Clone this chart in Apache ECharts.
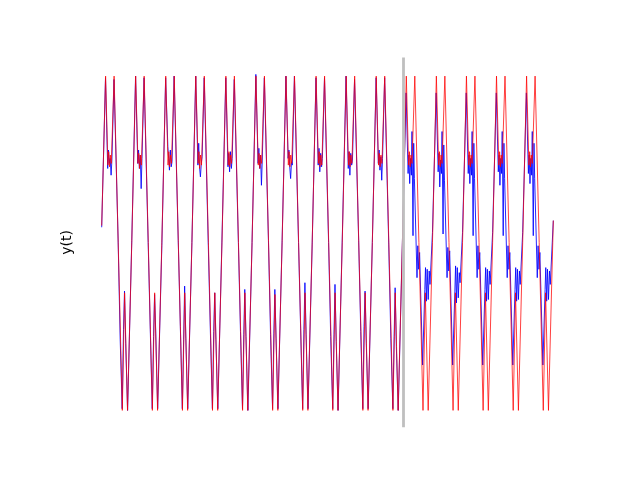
<!DOCTYPE html>
<html>
<head>
<meta charset="utf-8">
<script src="https://cdn.jsdelivr.net/npm/echarts@6/dist/echarts.min.js"></script>
<style>html,body{margin:0;padding:0;background:#fff;}#c{width:640px;height:480px;}</style>
</head>
<body>
<div id="c"></div>
<script>
// y(t): reference signal (red)
const truePoints = [
[0,0.10],[3.9,0.99],[6.2,0.46],[7.0,0.54],[7.8,0.45],[8.6,0.52],[9.6,0.47],[12.4,0.99],[16.5,0.00],[20.6,-1.00],[22.9,-0.30],[25.8,-1.00],
[30.07,0.00],[33.97,0.99],[36.27,0.47],[37.07,0.53],[37.87,0.44],[38.67,0.52],[39.67,0.46],[42.47,0.99],[46.57,0.00],[50.67,-1.00],[52.97,-0.30],[55.87,-1.00],
[60.14,0.00],[64.04,0.99],[66.34,0.46],[67.14,0.54],[67.94,0.45],[68.74,0.52],[69.74,0.47],[72.54,0.99],[76.64,0.00],[80.74,-1.00],[83.04,-0.30],[85.94,-1.00],
[90.21,0.00],[94.11,0.99],[96.41,0.47],[97.21,0.54],[98.01,0.44],[98.81,0.52],[99.81,0.46],[102.61,0.99],[106.71,0.00],[110.81,-1.00],[113.11,-0.30],[116.01,-1.00],
[120.28,0.00],[124.18,0.99],[126.48,0.46],[127.28,0.54],[128.08,0.45],[128.88,0.52],[129.88,0.47],[132.68,0.99],[136.78,0.00],[140.88,-1.00],[143.18,-0.30],[146.08,-1.00],
[150.35,0.00],[154.25,0.99],[156.55,0.46],[157.35,0.53],[158.15,0.44],[158.95,0.52],[159.95,0.47],[162.75,0.99],[166.85,0.00],[170.95,-1.00],[173.25,-0.31],[176.15,-1.00],
[180.42,0.00],[184.32,0.99],[186.62,0.46],[187.42,0.54],[188.22,0.45],[189.02,0.52],[190.02,0.47],[192.82,0.99],[196.92,0.00],[201.02,-1.00],[203.32,-0.30],[206.22,-1.00],
[210.49,0.00],[214.39,0.99],[216.69,0.47],[217.49,0.54],[218.29,0.45],[219.09,0.52],[220.09,0.46],[222.89,0.99],[226.99,0.00],[231.09,-1.00],[233.39,-0.30],[236.29,-1.00],
[240.56,0.00],[244.46,0.99],[246.76,0.46],[247.56,0.54],[248.36,0.45],[249.16,0.52],[250.16,0.47],[252.96,0.99],[257.06,0.00],[261.16,-1.00],[263.46,-0.30],[266.36,-1.00],
[270.63,0.00],[274.53,0.99],[276.83,0.46],[277.63,0.53],[278.43,0.45],[279.23,0.52],[280.23,0.47],[283.03,0.99],[287.13,0.00],[291.23,-1.00],[293.53,-0.30],[296.43,-1.00],
[300.70,0.00],[304.60,0.99],[306.90,0.46],[307.70,0.54],[308.50,0.45],[309.30,0.52],[310.30,0.47],[313.10,0.99],[317.20,0.00],[321.30,-1.00],[323.60,-0.30],[326.50,-1.00],
[330.77,0.00],[334.67,0.99],[336.97,0.46],[337.77,0.54],[338.57,0.45],[339.37,0.52],[340.37,0.47],[343.17,0.99],[347.27,0.00],[351.37,-1.00],[353.67,-0.30],[356.57,-1.00],
[360.84,0.00],[364.74,0.99],[367.04,0.46],[367.84,0.54],[368.64,0.45],[369.44,0.52],[370.44,0.47],[373.24,0.99],[377.34,0.00],[381.44,-1.00],[383.74,-0.30],[386.64,-1.00],
[390.91,0.00],[394.81,0.99],[397.11,0.46],[397.91,0.54],[398.71,0.45],[399.51,0.52],[400.51,0.47],[403.31,0.99],[407.41,0.00],[411.51,-1.00],[413.81,-0.30],[416.71,-1.00],
[420.98,0.00],[424.88,0.99],[427.18,0.46],[427.98,0.54],[428.78,0.45],[429.58,0.52],[430.58,0.47],[433.38,0.99],[437.48,0.00],[441.58,-1.00],[443.88,-0.30],[446.78,-1.00],
[451.05,0.00],[451.6,0.13]
];

// model output (blue): fit before the split, free run after it
const modelPoints = [
[0,0.09],[3.8,0.98],[6.0,0.44],[6.8,0.55],[7.6,0.47],[8.5,0.50],[9.4,0.40],[10.2,0.49],[12.3,0.97],[16.4,0.02],[18.5,-0.58],[20.5,-0.99],[21.8,-0.52],[22.8,-0.29],[24.0,-0.60],[25.9,-1.00],
[30.07,0.01],[33.87,0.99],[36.07,0.47],[36.87,0.55],[37.67,0.44],[38.57,0.52],[39.47,0.32],[40.27,0.50],[42.37,0.98],[46.47,0.00],[48.57,-0.52],[50.57,-0.99],[51.87,-0.56],[52.87,-0.31],[54.07,-0.54],[55.97,-0.99],
[60.14,-0.02],[63.94,0.98],[66.14,0.57],[66.94,0.50],[67.74,0.43],[68.64,0.55],[69.54,0.45],[70.34,0.48],[72.44,0.99],[76.54,0.01],[78.64,-0.50],[80.64,-0.99],[81.94,-0.58],[82.94,-0.26],[84.14,-0.57],[86.04,-0.99],
[90.21,0.00],[94.01,0.99],[96.21,0.46],[97.01,0.59],[97.81,0.45],[98.71,0.39],[99.61,0.47],[100.41,0.51],[102.51,0.98],[106.61,-0.02],[108.71,-0.54],[110.71,-0.99],[112.01,-0.53],[113.01,-0.30],[114.21,-0.58],[116.11,-0.99],
[120.28,0.02],[124.08,0.98],[126.28,0.45],[127.08,0.53],[127.88,0.42],[128.78,0.54],[129.68,0.44],[130.48,0.50],[132.58,0.97],[136.68,0.00],[138.78,-0.53],[140.78,-0.99],[142.08,-0.55],[143.08,-0.28],[144.28,-0.56],[146.18,-1.00],
[150.35,0.00],[154.15,1.00],[156.35,0.47],[157.15,0.56],[157.95,0.44],[158.85,0.52],[159.75,0.34],[160.55,0.49],[162.65,0.98],[166.75,0.01],[168.85,-0.55],[170.85,-0.99],[172.15,-0.54],[173.15,-0.28],[174.35,-0.57],[176.25,-0.99],
[180.42,0.01],[184.22,0.99],[186.42,0.50],[187.22,0.55],[188.02,0.45],[188.92,0.38],[189.82,0.48],[190.62,0.46],[192.72,0.99],[196.82,0.00],[198.92,-0.51],[200.92,-0.99],[202.22,-0.52],[203.22,-0.24],[204.42,-0.55],[206.32,-0.99],
[210.49,-0.01],[214.29,0.98],[216.49,0.46],[217.29,0.56],[218.09,0.42],[218.99,0.53],[219.89,0.45],[220.69,0.50],[222.79,0.98],[226.89,0.00],[228.99,-0.56],[230.99,-0.99],[232.29,-0.55],[233.29,-0.25],[234.49,-0.59],[236.39,-1.00],
[240.56,0.02],[244.36,0.99],[246.56,0.44],[247.36,0.54],[248.16,0.40],[249.06,0.53],[249.96,0.46],[250.76,0.49],[252.86,0.97],[256.96,0.01],[259.06,-0.53],[261.06,-0.99],[262.36,-0.50],[263.36,-0.29],[264.56,-0.60],[266.46,-0.99],
[270.63,0.00],[274.43,0.98],[276.63,0.47],[277.43,0.55],[278.23,0.43],[279.13,0.51],[280.03,0.37],[280.83,0.50],[282.93,0.98],[287.03,-0.01],[289.13,-0.57],[291.13,-0.99],[292.43,-0.56],[293.43,-0.27],[294.63,-0.62],[296.53,-1.00],
[300.70,0.00],[304.40,0.89],[306.40,0.41],[307.20,0.52],[308.00,0.35],[308.90,0.50],[309.70,0.40],[310.30,0.66],[311.30,0.04],[312.00,0.59],[312.70,0.38],[315.30,-0.21],[316.10,-0.02],[317.00,-0.16],[317.90,-0.06],[320.90,-0.73],[323.10,-0.28],[323.80,-0.15],[324.70,-0.35],[325.50,-0.16],[326.50,-0.34],[327.50,-0.17],[328.30,-0.25],
[330.77,0.06],[334.47,0.89],[336.47,0.42],[337.27,0.53],[338.07,0.33],[338.97,0.49],[339.77,0.41],[340.37,0.66],[341.37,0.05],[342.07,0.58],[342.77,0.37],[345.37,-0.21],[346.17,-0.03],[347.07,-0.17],[347.97,-0.05],[350.97,-0.73],[353.17,-0.29],[353.87,-0.14],[354.77,-0.36],[355.57,-0.15],[356.57,-0.33],[357.57,-0.18],[358.37,-0.24],
[360.84,0.06],[364.54,0.89],[366.54,0.41],[367.34,0.52],[368.14,0.35],[369.04,0.50],[369.84,0.40],[370.44,0.66],[371.44,0.04],[372.14,0.59],[372.84,0.38],[375.44,-0.21],[376.24,-0.02],[377.14,-0.16],[378.04,-0.06],[381.04,-0.73],[383.24,-0.28],[383.94,-0.15],[384.84,-0.35],[385.64,-0.16],[386.64,-0.34],[387.64,-0.17],[388.44,-0.25],
[390.91,0.06],[394.61,0.89],[396.61,0.42],[397.41,0.52],[398.21,0.34],[399.11,0.50],[399.91,0.41],[400.51,0.66],[401.51,0.04],[402.21,0.59],[402.91,0.38],[405.51,-0.21],[406.31,-0.02],[407.21,-0.16],[408.11,-0.06],[411.11,-0.73],[413.31,-0.28],[414.01,-0.15],[414.91,-0.35],[415.71,-0.16],[416.71,-0.34],[417.71,-0.17],[418.51,-0.25],
[420.98,0.06],[424.68,0.89],[426.68,0.41],[427.48,0.52],[428.28,0.35],[429.18,0.50],[429.98,0.40],[430.58,0.66],[431.58,0.04],[432.28,0.59],[432.98,0.38],[435.58,-0.21],[436.38,-0.02],[437.28,-0.16],[438.18,-0.06],[441.18,-0.73],[443.38,-0.28],[444.08,-0.15],[444.98,-0.35],[445.78,-0.16],[446.78,-0.34],[447.78,-0.17],[448.58,-0.25],
[451.6,0.13]
];

const splitT = 301.2;
const xRange = [-21.7, 474.3];
const yRange = [-1.1, 1.1];
const yLabel = 'y(t)';

const chart = echarts.init(document.getElementById('c'), null, {renderer: 'canvas'});
chart.setOption({
  animation: false,
  backgroundColor: '#ffffff',
  grid: {left: 80, right: 64, top: 57.6, bottom: 52.8},
  xAxis: {
    type: 'value', min: xRange[0], max: xRange[1],
    axisLine: {show: false}, axisTick: {show: false}, axisLabel: {show: false}, splitLine: {show: false}
  },
  yAxis: {
    type: 'value', min: yRange[0], max: yRange[1],
    name: yLabel, nameLocation: 'middle', nameGap: 6,
    nameTextStyle: {fontFamily: 'DejaVu Sans', fontSize: 14, color: '#000'},
    axisLine: {show: false}, axisTick: {show: false}, axisLabel: {show: false}, splitLine: {show: false}
  },
  series: [
    {
      type: 'line', data: modelPoints, showSymbol: false, symbol: 'none', z: 2,
      lineStyle: {color: '#0000ff', width: 1, opacity: 0.85}
    },
    {
      type: 'line', data: truePoints, showSymbol: false, symbol: 'none', z: 3,
      lineStyle: {color: '#ff0000', width: 1, opacity: 0.75}
    },
    {
      type: 'line', data: [], z: 5,
      markLine: {
        silent: true, symbol: ['none', 'none'], label: {show: false},
        lineStyle: {color: '#bfbfbf', width: 2.8, type: 'solid'},
        data: [{xAxis: splitT}]
      }
    }
  ]
});
</script>
</body>
</html>
